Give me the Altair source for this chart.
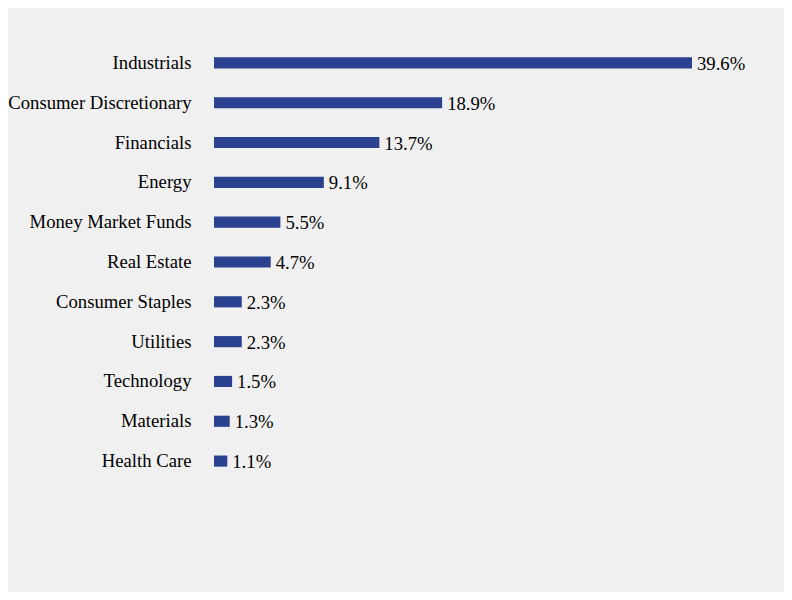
import altair as alt
import pandas as pd

sectors = ["Industrials", "Consumer Discretionary", "Financials", "Energy",
           "Money Market Funds", "Real Estate", "Consumer Staples", "Utilities",
           "Technology", "Materials", "Health Care"]
values = [39.6, 18.9, 13.7, 9.1, 5.5, 4.7, 2.3, 2.3, 1.5, 1.3, 1.1]

df = pd.DataFrame({"sector": sectors, "value": values,
                   "label": [f"{v:.1f}%" for v in values]})

FONT = "Liberation Serif"
FS = 18.7

y = alt.Y("sector:N", sort=sectors, title=None,
          scale=alt.Scale(paddingInner=0.72, paddingOuter=0.36),
          axis=alt.Axis(domain=False, ticks=False, labelPadding=23,
                        labelFont=FONT, labelFontSize=FS, labelColor="#000000",
                        labelLimit=300))
x = alt.X("value:Q", title=None, axis=None,
          scale=alt.Scale(domain=[0, 39.6], nice=False, zero=True))

bars = alt.Chart(df).mark_bar(color="#2a4290").encode(x=x, y=y)
text = alt.Chart(df).mark_text(align="left", baseline="middle", dx=5, dy=1,
                               font=FONT, fontSize=FS, color="#000000").encode(
    x=x, y=y, text="label:N")

chart = (bars + text).properties(
    width=478, height=438,
    background="#f0f0f0",
    padding={"left": 206, "top": 35, "right": 92, "bottom": 111},
    autosize=alt.AutoSizeParams(type="none"),
).configure_view(stroke=None)

chart.save("out.html", embed_options={"renderer": "svg", "actions": False})
